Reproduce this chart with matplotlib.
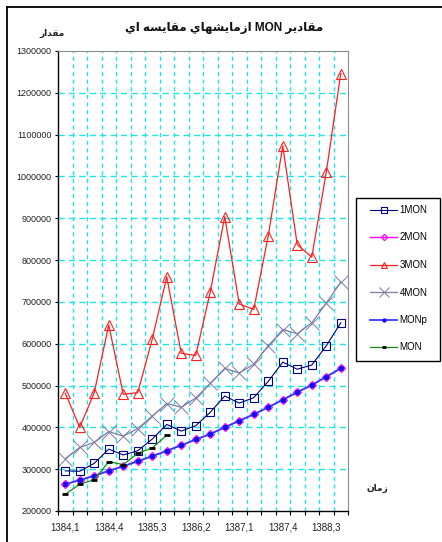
import matplotlib
matplotlib.use('Agg')
import matplotlib.pyplot as plt
from matplotlib.lines import Line2D
from matplotlib.patches import Rectangle
import numpy as np

plt.rcParams['font.family'] = ['Liberation Sans', 'DejaVu Sans']
plt.rcParams['lines.scale_dashes'] = False

# quarters 1384,1 .. 1388,4
quarters = ['%d,%d' % (y, q) for y in range(1384, 1389) for q in range(1, 5)]

mon1 = [296000, 295000, 314000, 348000, 334000, 344000, 372000, 407000, 391000, 404000,
        436000, 475000, 458000, 471000, 510000, 556000, 539000, 549000, 595000, 650000]
mon2 = [264000, 274000, 284000, 296000, 307000, 319000, 331000, 344000, 357000, 371000,
        384000, 400000, 416000, 431000, 448000, 466000, 484000, 501000, 521000, 541000]
mon3 = [482000, 400000, 483000, 645000, 479000, 483000, 611000, 760000, 577000, 572000,
        724000, 904000, 695000, 682000, 858000, 1073000, 837000, 807000, 1010000, 1246000]
mon4 = [325000, 352000, 364000, 390000, 379000, 397000, 427000, 457000, 448000, 470000,
        505000, 541000, 530000, 551000, 595000, 634000, 624000, 650000, 697000, 747000]
monp = [264000, 274000, 284000, 296000, 307000, 319000, 331000, 344000, 357000, 371000,
        384000, 400000, 416000, 431000, 448000, 466000, 484000, 501000, 521000, 541000]
mon = [240000, 264000, 275000, 318000, 311000, 338000, 351000, 381000]

# presentation forms: isolated, final, initial, medial
FORMS = {
    'ا': ('\uFE8D', '\uFE8E', None, None),
    'د': ('\uFEA9', '\uFEAA', None, None),
    'ر': ('\uFEAD', '\uFEAE', None, None),
    'ز': ('\uFEAF', '\uFEB0', None, None),
    'س': ('\uFEB1', '\uFEB2', '\uFEB3', '\uFEB4'),
    'ش': ('\uFEB5', '\uFEB6', '\uFEB7', '\uFEB8'),
    'ق': ('\uFED5', '\uFED6', '\uFED7', '\uFED8'),
    'م': ('\uFEE1', '\uFEE2', '\uFEE3', '\uFEE4'),
    'ن': ('\uFEE5', '\uFEE6', '\uFEE7', '\uFEE8'),
    'ه': ('\uFEE9', '\uFEEA', '\uFEEB', '\uFEEC'),
    'ي': ('\uFEF1', '\uFEF2', '\uFEF3', '\uFEF4'),
}


def shape_word(w):
    out = []
    for i, ch in enumerate(w):
        if ch not in FORMS:
            out.append(ch)
            continue
        prev = w[i - 1] if i > 0 else None
        nxt = w[i + 1] if i + 1 < len(w) else None
        join_prev = prev in FORMS and FORMS[prev][2] is not None
        join_next = nxt in FORMS and FORMS[ch][2] is not None
        iso, fin, ini, med = FORMS[ch]
        if join_prev and join_next:
            out.append(med)
        elif join_prev:
            out.append(fin)
        elif join_next:
            out.append(ini)
        else:
            out.append(iso)
    return ''.join(reversed(out))


def rtl(text):
    words = text.split(' ')
    shaped = [shape_word(w) if any(c in FORMS for c in w) else w for w in words]
    return ' '.join(reversed(shaped))


W, H = 442, 542
fig = plt.figure(figsize=(W / 100, H / 100), dpi=100)
ax = fig.add_axes([58 / W, 1 - 511 / H, 290 / W, 460 / H])

x = np.arange(len(quarters))
ax.set_xlim(-0.5, len(quarters) - 0.5)
ax.set_ylim(200000, 1300000)

# grid
grid_c = '#22e4e4'
for yv in range(300000, 1300000, 100000):
    ax.axhline(yv, color=grid_c, lw=1.0, dashes=(4.5, 3), zorder=0)
for xv in np.arange(0.5, len(quarters) - 1, 1):
    ax.axvline(xv, color=grid_c, lw=1.0, dashes=(3, 2.5), zorder=0)

l1, = ax.plot(x, mon1, color='#000080', lw=0.8, marker='s', ms=5.5, mfc='none', mec='#000080', mew=0.8, label='1MON')
l2, = ax.plot(x, mon2, color='#ff00ff', lw=1.0, marker='D', ms=4.5, mfc='none', mec='#ff00ff', mew=0.9, label='2MON')
l3, = ax.plot(x, mon3, color='#ff2020', lw=0.9, marker='^', ms=6.5, mfc='none', mec='#ff2020', mew=0.8, label='3MON')
l4, = ax.plot(x, mon4, color='#7c7ca8', lw=0.9, marker='x', ms=9.5, mec='#7c7ca8', mew=0.7, label='4MON')
lp, = ax.plot(x, monp, color='#3a3aff', lw=1.3, marker='o', ms=3, mfc='#1010ee', mec='#1010ee', label='MONp')
lm, = ax.plot(x[:len(mon)], mon, color='#1a8a1a', lw=0.9, marker='_', ms=5, mec='black', mew=2, label='MON')

# axes styling
for s in ['top', 'right']:
    ax.spines[s].set_color('#8c8c8c')
    ax.spines[s].set_linewidth(0.8)
for s in ['left', 'bottom']:
    ax.spines[s].set_color('black')
    ax.spines[s].set_linewidth(1.0)

ax.set_yticks(range(200000, 1300001, 100000))
ax.set_yticklabels([str(v) for v in range(200000, 1300001, 100000)], fontsize=6.5, color='#222222')
ax.tick_params(axis='y', direction='out', length=2.5, width=0.8, pad=2)

ax.set_xticks(x[::3])
ax.set_xticklabels(quarters[::3], fontsize=7, color='#222222')
ax.set_xticks(np.arange(-0.5, len(quarters)), minor=True)
ax.tick_params(axis='x', which='major', length=0, pad=8)
ax.tick_params(axis='x', which='minor', direction='out', length=3, width=0.8)

fig.text(224 / W, 1 - 28 / H, rtl('مقادير MON ازمايشهاي مقايسه اي'),
         ha='center', va='center', fontsize=8.5, fontweight='bold', color='#111111')
fig.text(52 / W, 1 - 33 / H, rtl('مقدار'), ha='center', va='center', fontsize=6.5,
         fontweight='bold', color='#222222')
fig.text(377 / W, 1 - 488 / H, rtl('زمان'), ha='center', va='center', fontsize=6.5,
         fontweight='bold', color='#222222')

# legend box
fig.patches.append(Rectangle((356 / W, 1 - 361 / H), 84 / W, 163 / H, transform=fig.transFigure,
                             fill=False, edgecolor='black', lw=1.0))
fig.legend(handles=[l1, l2, l3, l4, lp, lm], loc='upper left', bbox_to_anchor=(370 / W, 1 - 205 / H),
           frameon=False, fontsize=7, handlelength=2.8, handletextpad=0.25, markerscale=0.7,
           labelspacing=1.8, borderpad=0, borderaxespad=0)

# outer frame (left and top edges)
fig.add_artist(Line2D([7 / W, 7 / W], [0, 1 - 7 / H], transform=fig.transFigure, color='black', lw=1.3))
fig.add_artist(Line2D([7 / W, 1], [1 - 7 / H, 1 - 7 / H], transform=fig.transFigure, color='black', lw=1.3))

fig.savefig('out.png', dpi=100)
